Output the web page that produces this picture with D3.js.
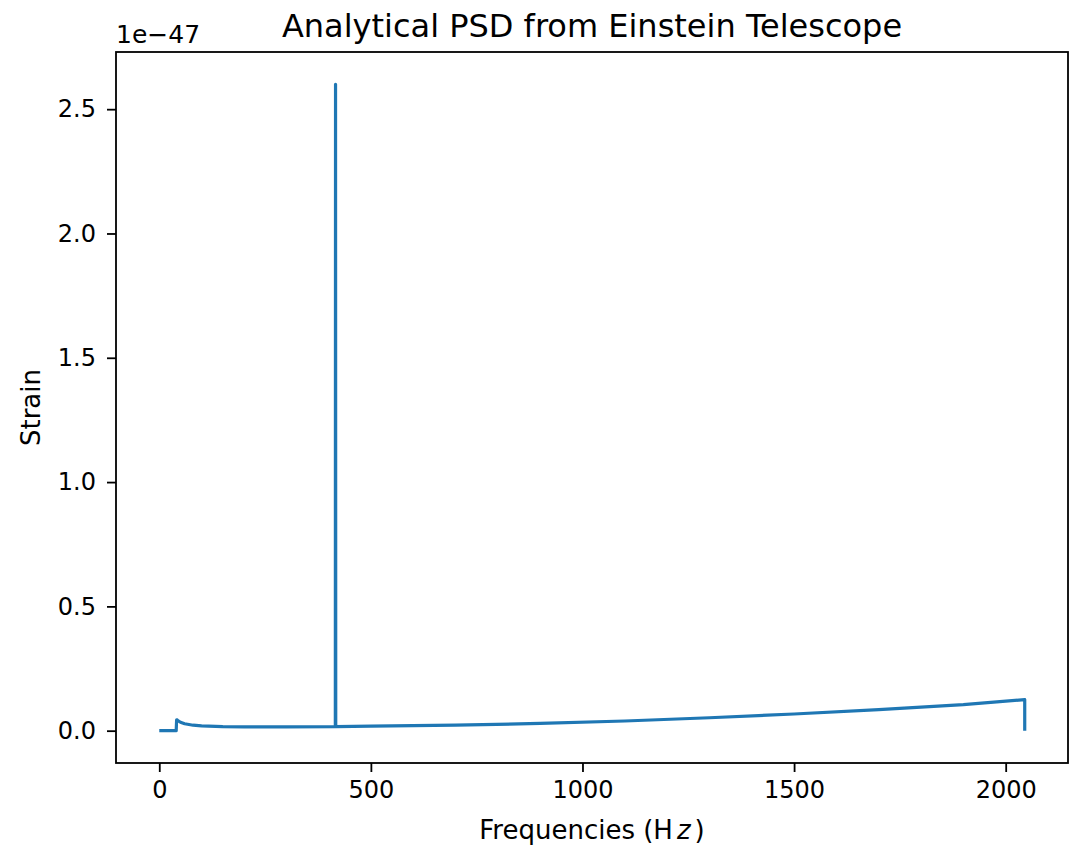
<!DOCTYPE html>
<html>
<head>
<meta charset="utf-8">
<script src="https://cdn.jsdelivr.net/npm/d3@7"></script>
<style>
  html, body { margin: 0; padding: 0; background: #fff; }
  svg { display: block; font-family: "DejaVu Sans", sans-serif; }
</style>
</head>
<body>
<svg id="chart" width="1079" height="846"></svg>
<script>
// Frequencies in Hz, strain values in units of 1e-47
const frequencies = [0, 40, 41, 43, 50, 60, 80, 100, 150, 200, 300, 416, 416.5, 417, 500, 700, 900, 1100, 1300, 1500, 1700, 1900, 2045, 2045];
const strain      = [0, 0, 0.044, 0.042, 0.034, 0.028, 0.022, 0.019, 0.016, 0.015, 0.015, 0.016, 2.6, 0.016, 0.018, 0.022, 0.029, 0.039, 0.052, 0.067, 0.085, 0.105, 0.125, 0];
const xTicks = [0, 500, 1000, 1500, 2000];
const yTicks = [0, 0.5, 1.0, 1.5, 2.0, 2.5];
const titleText = "Analytical PSD from Einstein Telescope";
const yLabelText = "Strain";
const offsetText = "1e\u221247";

const svg = d3.select("#chart");
const margin = { left: 116, right: 11, top: 52, bottom: 83 };
const W = 1079, H = 846;
const x0 = margin.left, x1 = W - margin.right, y0 = margin.top, y1 = H - margin.bottom;

const xMin = d3.min(frequencies), xMax = d3.max(frequencies);
const yMin = d3.min(strain), yMax = d3.max(strain);
const xPad = (xMax - xMin) * 0.05, yPad = (yMax - yMin) * 0.05;

const x = d3.scaleLinear().domain([xMin - xPad, xMax + xPad]).range([x0, x1]);
const y = d3.scaleLinear().domain([yMin - yPad, yMax + yPad]).range([y1, y0]);

const data = frequencies.map((f, i) => ({ f, s: strain[i] }));

// Line
const g = svg.append("g");
g.append("clipPath").attr("id", "clip").append("rect")
  .attr("x", x0).attr("y", y0).attr("width", x1 - x0).attr("height", y1 - y0);
g.append("path")
  .datum(data)
  .attr("clip-path", "url(#clip)")
  .attr("fill", "none")
  .attr("stroke", "#1f77b4")
  .attr("stroke-width", 3.2)
  .attr("stroke-linejoin", "round")
  .attr("stroke-linecap", "butt")
  .attr("d", d3.line().x(d => x(d.f)).y(d => y(d.s)));

// Axes
const fmtY = d3.format(".1f");
const xAxis = d3.axisBottom(x).tickValues(xTicks).tickSize(9).tickPadding(9).tickFormat(d3.format("d"));
const yAxis = d3.axisLeft(y).tickValues(yTicks).tickSize(9).tickPadding(11).tickFormat(fmtY);

const gx = svg.append("g").attr("transform", `translate(0,${y1})`).call(xAxis);
const gy = svg.append("g").attr("transform", `translate(${x0},0)`).call(yAxis);
[gx, gy].forEach(a => {
  a.select(".domain").remove();
  a.selectAll(".tick line").attr("stroke", "#000").attr("stroke-width", 1.8);
  a.selectAll(".tick text").attr("fill", "#000").style("font-size", "24px").style("font-family", "DejaVu Sans");
});

// Frame
svg.append("rect")
  .attr("x", x0).attr("y", y0).attr("width", x1 - x0).attr("height", y1 - y0)
  .attr("fill", "none").attr("stroke", "#000").attr("stroke-width", 1.8);

// Title
svg.append("text")
  .attr("x", (x0 + x1) / 2).attr("y", 37)
  .attr("text-anchor", "middle")
  .style("font-size", "32px")
  .text(titleText);

// Offset text
svg.append("text")
  .attr("x", x0).attr("y", 43)
  .style("font-size", "25px")
  .text(offsetText);

// X label
const xl = svg.append("text")
  .attr("x", (x0 + x1) / 2).attr("y", 839)
  .attr("text-anchor", "middle")
  .style("font-size", "26px");
xl.append("tspan").text("Frequencies (");
xl.append("tspan").text("H");
xl.append("tspan").attr("dx", 4).style("font-style", "italic").text("z");
xl.append("tspan").attr("dx", 4).text(")");

// Y label
svg.append("text")
  .attr("transform", `translate(40,${(y0 + y1) / 2}) rotate(-90)`)
  .attr("text-anchor", "middle")
  .style("font-size", "26px")
  .text(yLabelText);
</script>
</body>
</html>
